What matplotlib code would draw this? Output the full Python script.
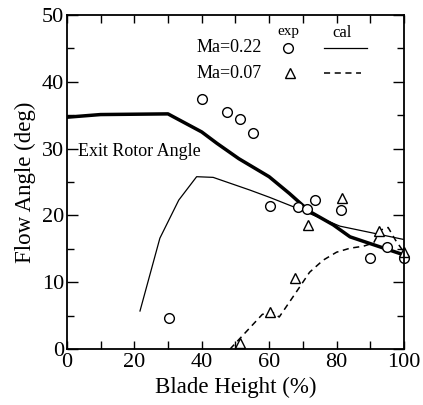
import numpy as np
import matplotlib
matplotlib.use("Agg")
import matplotlib.pyplot as plt
import matplotlib.transforms as mtransforms
from matplotlib.ticker import MultipleLocator

plt.rcParams['font.family'] = ['Liberation Serif', 'DejaVu Serif']

# Exit rotor angle (thick line)
rotor_h = [0, 10, 30, 40, 44.5, 51, 60, 66, 72, 79, 84, 100]
rotor_a = [34.7, 35.1, 35.2, 32.5, 30.8, 28.5, 25.8, 23.3, 20.6, 18.6, 16.8, 14.1]

# Ma=0.22 calculation (thin solid)
cal22_h = [21.7, 27.6, 33.2, 38.5, 43.4, 54.3, 60.2, 67.2, 81, 100]
cal22_a = [5.7, 16.6, 22.3, 25.8, 25.7, 23.8, 22.7, 21.3, 18.4, 16.4]

# Ma=0.07 calculation (dashed)
cal07_h = [48.4, 58, 61, 63, 68, 72, 76, 80, 84, 88, 91, 93, 95.3, 97.5, 100]
cal07_a = [0.0, 5.2, 5.5, 4.8, 8.5, 11.5, 13.3, 14.5, 15.1, 15.4, 15.9, 17.8, 18.2, 16.3, 14.5]

# Ma=0.22 experiment (circles)
exp22_h = [30.3, 40, 47.4, 51.3, 55.1, 60.2, 68.6, 71.1, 73.6, 81.3, 89.9, 94.9, 100]
exp22_a = [4.6, 37.5, 35.5, 34.5, 32.4, 21.4, 21.2, 20.9, 22.3, 20.8, 13.6, 15.3, 13.6]

# Ma=0.07 experiment (triangles)
exp07_h = [51.5, 60.2, 67.7, 71.6, 81.5, 92.7, 100]
exp07_a = [0.85, 5.6, 10.6, 18.6, 22.6, 17.7, 14.6]

fig = plt.figure(figsize=(4.23, 4.05), dpi=100)
ax = fig.add_axes([0.158, 0.138, 0.797, 0.825])

ax.plot(rotor_h, rotor_a, color='black', lw=2.5, solid_joinstyle='round')
ax.plot(cal22_h, cal22_a, color='black', lw=0.9)
ax.plot(cal07_h, cal07_a, color='black', lw=1.1, ls=(0, (4, 3)))
ax.plot(exp22_h, exp22_a, 'o', mfc='white', mec='black', ms=7, mew=1.0, clip_on=False)
ax.plot(exp07_h, exp07_a, '^', mfc='white', mec='black', ms=7.5, mew=1.0, clip_on=False)

# hand-drawn style key
ax.text(38.6, 45.1, 'Ma=0.22', fontsize=13, va='center', ha='left')
ax.text(38.6, 41.3, 'Ma=0.07', fontsize=13, va='center', ha='left')
ax.text(65.6, 47.6, 'exp', fontsize=11, va='center', ha='center')
ax.text(81.6, 47.3, 'cal', fontsize=12, va='center', ha='center')
ax.plot([65.6], [45.1], 'o', mfc='white', mec='black', ms=7, mew=1.0)
ax.plot([66.2], [41.3], '^', mfc='white', mec='black', ms=7.5, mew=1.0)
ax.plot([76.2, 89], [45.1, 45.1], color='black', lw=0.9)
ax.plot([76.2, 87.2], [41.3, 41.3], color='black', lw=1.1, ls=(0, (4, 3)))
ax.text(3.3, 29.5, 'Exit Rotor Angle', fontsize=13, va='center', ha='left')

ax.set_xlim(0, 100)
ax.set_ylim(0, 50)
ax.xaxis.set_major_locator(MultipleLocator(20))
ax.xaxis.set_minor_locator(MultipleLocator(10))
ax.yaxis.set_major_locator(MultipleLocator(10))
ax.yaxis.set_minor_locator(MultipleLocator(5))
ax.tick_params(which='both', direction='in', top=True, right=True, labelsize=16, width=1.0)
ax.tick_params(axis='x', which='both', length=6, pad=3)
ax.tick_params(axis='y', which='major', length=8, pad=2)
ax.tick_params(axis='y', which='minor', length=5)
for s in ax.spines.values():
    s.set_linewidth(1.3)

ax.set_xlabel('Blade Height (%)', fontsize=16.5, labelpad=3)
ax.set_ylabel('Flow Angle (deg)', fontsize=16.5, labelpad=4)

# lift the y "0" a little so it sits above the x "0"
fig.canvas.draw()
ylab0 = ax.get_yticklabels()[0]
ylab0.set_transform(ylab0.get_transform() + mtransforms.ScaledTranslation(-0.02, 0.05, fig.dpi_scale_trans))

fig.savefig('out.png', dpi=100)
